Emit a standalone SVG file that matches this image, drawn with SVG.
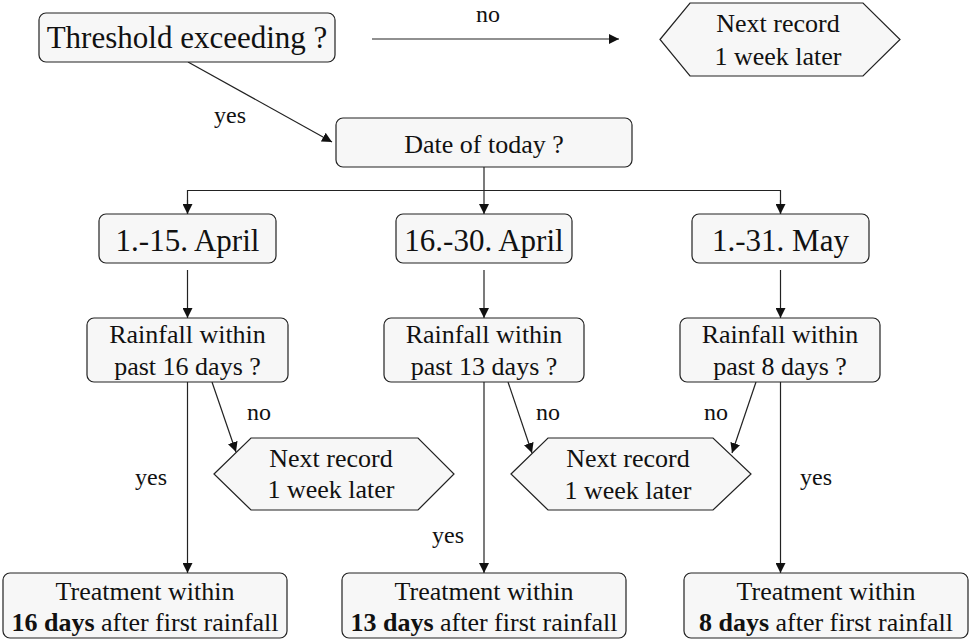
<svg xmlns="http://www.w3.org/2000/svg" width="969" height="639" viewBox="0 0 969 639">
<defs>
<marker id="ah" viewBox="0 0 10 10" refX="10" refY="5" markerWidth="10" markerHeight="10" markerUnits="userSpaceOnUse" orient="auto">
<path d="M0,0 L10,5 L0,10 z" fill="#111"/>
</marker>
<style>
.box{fill:#f7f7f7;stroke:#222;stroke-width:1.2}
text{fill:#111;text-anchor:middle;font-family:'Liberation Serif','DejaVu Serif','Noto Serif','Times New Roman',serif}
.big{font-size:31px}
.md{font-size:26px}
.lbl{font-size:24px}
.c{fill:none;stroke:#222;stroke-width:1.2}
.a{marker-end:url(#ah)}
.b{font-weight:bold}
</style>
</defs>
<g id="connectors">
<line class="c a" x1="372" y1="39" x2="619" y2="39"/>
<line class="c a" x1="188" y1="62" x2="332" y2="142"/>
<line class="c a" x1="484" y1="167" x2="484" y2="214"/>
<polyline class="c" points="187.5,214 187.5,190.5 780.5,190.5 780.5,214"/>
<line class="c a" x1="187.5" y1="200" x2="187.5" y2="214"/>
<line class="c a" x1="780.5" y1="200" x2="780.5" y2="214"/>
<line class="c a" x1="187.5" y1="270" x2="187.5" y2="318"/>
<line class="c a" x1="484" y1="270" x2="484" y2="318"/>
<line class="c a" x1="780.5" y1="270" x2="780.5" y2="318"/>
<line class="c a" x1="212" y1="382" x2="236" y2="452"/>
<line class="c a" x1="508" y1="382" x2="532" y2="453"/>
<line class="c a" x1="756" y1="382" x2="732" y2="453"/>
<line class="c a" x1="187.5" y1="382" x2="187.5" y2="573"/>
<line class="c a" x1="484" y1="382" x2="484" y2="573"/>
<line class="c a" x1="780.5" y1="382" x2="780.5" y2="573"/>
<text class="lbl" x="488" y="22">no</text>
<text class="lbl" x="230" y="123">yes</text>
<text class="lbl" x="259" y="420">no</text>
<text class="lbl" x="548" y="420">no</text>
<text class="lbl" x="716" y="420">no</text>
<text class="lbl" x="151" y="485">yes</text>
<text class="lbl" x="816" y="485">yes</text>
<text class="lbl" x="448" y="543">yes</text>
</g>
<g id="threshold">
<rect class="box" x="39" y="13" width="296" height="49" rx="7"/>
<text class="big" x="187" y="48">Threshold exceeding ?</text>
</g>
<g id="next-top">
<polygon class="box" points="660,39.5 690,3 863,3 900,39.5 863,76 690,76"/>
<text class="md" x="778" y="32">Next record</text>
<text class="md" x="778" y="65">1 week later</text>
</g>
<g id="date">
<rect class="box" x="336" y="118" width="296" height="49" rx="7"/>
<text class="md" x="484" y="153">Date of today ?</text>
</g>
<g id="april1">
<rect class="box" x="99" y="214" width="177" height="49" rx="7"/>
<text class="big" x="187.5" y="251">1.-15. April</text>
</g>
<g id="april2">
<rect class="box" x="396" y="214" width="176" height="49" rx="7"/>
<text class="big" x="484" y="251">16.-30. April</text>
</g>
<g id="may">
<rect class="box" x="692" y="214" width="177" height="49" rx="7"/>
<text class="big" x="780.5" y="251">1.-31. May</text>
</g>
<g id="rain16">
<rect class="box" x="87" y="318" width="201" height="64" rx="7"/>
<text class="md" x="187.5" y="343">Rainfall within</text>
<text class="md" x="187.5" y="375">past 16 days ?</text>
</g>
<g id="rain13">
<rect class="box" x="384" y="318" width="200" height="64" rx="7"/>
<text class="md" x="484" y="343">Rainfall within</text>
<text class="md" x="484" y="375">past 13 days ?</text>
</g>
<g id="rain8">
<rect class="box" x="680" y="318" width="200" height="64" rx="7"/>
<text class="md" x="780" y="343">Rainfall within</text>
<text class="md" x="780" y="375">past 8 days ?</text>
</g>
<g id="next-left">
<polygon class="box" points="214,474 251,438 418,438 454,474 418,510 251,510"/>
<text class="md" x="331" y="467">Next record</text>
<text class="md" x="331" y="498">1 week later</text>
</g>
<g id="next-mid">
<polygon class="box" points="511,474 548,438 713,438 751,474 713,510 548,510"/>
<text class="md" x="628" y="467">Next record</text>
<text class="md" x="628" y="499">1 week later</text>
</g>
<g id="treat16">
<rect class="box" x="3" y="573" width="284" height="65" rx="7"/>
<text class="md" x="145" y="600">Treatment within</text>
<text class="md" x="145" y="631"><tspan class="b">16 days</tspan> after first rainfall</text>
</g>
<g id="treat13">
<rect class="box" x="342" y="573" width="284" height="65" rx="7"/>
<text class="md" x="484" y="600">Treatment within</text>
<text class="md" x="484" y="631"><tspan class="b">13 days</tspan> after first rainfall</text>
</g>
<g id="treat8">
<rect class="box" x="684" y="573" width="284" height="65" rx="7"/>
<text class="md" x="826" y="600">Treatment within</text>
<text class="md" x="826" y="631"><tspan class="b">8 days</tspan> after first rainfall</text>
</g>
</svg>
